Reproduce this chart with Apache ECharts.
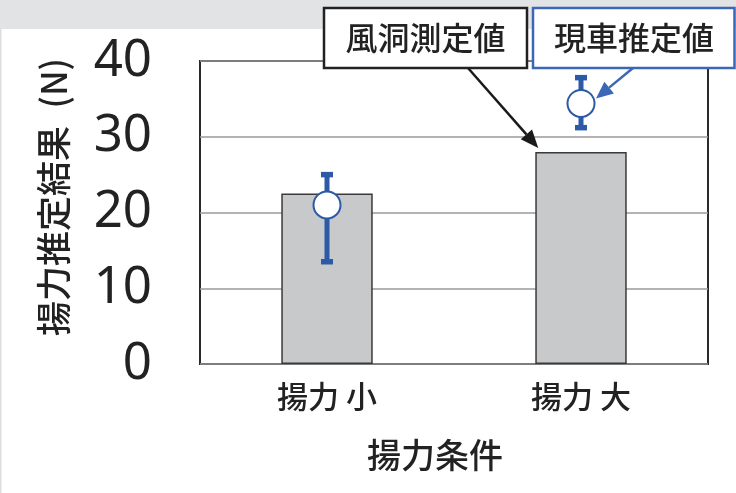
<!DOCTYPE html>
<html><head><meta charset="utf-8">
<script src="https://cdn.jsdelivr.net/npm/echarts@6/dist/echarts.min.js"></script>
<style>html,body{margin:0;padding:0;background:#fff}#c{width:736px;height:493px}</style>
</head><body><div id="c"></div>
<script>
// Lift force: wind-tunnel measurement (bars) vs. on-vehicle estimate (points with range)
const categories = ['揚力 小', '揚力 大'];
const tunnelValues = [22.5, 28.0];
const estimateValues = [21.0, 34.4];
const estimateLow = [13.5, 31.2];
const estimateHigh = [25.0, 37.8];
const yTicks = [0, 10, 20, 30, 40];

const BLUE = '#2c5aa6';
const BOX_BLUE = '#3b67b6';
const FONT = '"Noto Sans CJK JP", "Noto Sans", sans-serif';

const chart = echarts.init(document.getElementById('c'), null, { renderer: 'canvas' });

const errorData = categories.map((c, i) => [i, estimateLow[i], estimateHigh[i]]);
const pointData = categories.map((c, i) => [i, estimateValues[i]]);

chart.setOption({
  animation: false,
  backgroundColor: '#ffffff',
  grid: { left: 200, right: 28, top: 61, bottom: 129, show: true, borderColor: '#2a2a2a', borderWidth: 2, backgroundColor: 'transparent' },
  xAxis: {
    type: 'category',
    data: categories,
    axisLine: { show: false },
    axisTick: { show: false },
    axisLabel: { fontSize: 31, fontWeight: 500, color: '#222', fontFamily: FONT, margin: 17 }
  },
  yAxis: {
    type: 'value',
    min: yTicks[0], max: yTicks[yTicks.length - 1], interval: 10,
    axisLine: { show: false },
    axisTick: { show: false },
    splitLine: { show: true, lineStyle: { color: '#9a9a9a', width: 1.5 } },
    axisLabel: { fontSize: 51, color: '#222', fontFamily: '"Noto Sans", sans-serif', margin: 48 }
  },
  series: [
    {
      name: '風洞測定値',
      type: 'bar',
      data: tunnelValues,
      barWidth: '36%',
      itemStyle: { color: '#c8c9cb', borderColor: '#3a3a3a', borderWidth: 1.5 },
      z: 2
    },
    {
      name: '現車推定値 範囲',
      type: 'custom',
      data: errorData,
      z: 3,
      renderItem(params, api) {
        const x = api.value(0);
        const lo = api.coord([x, api.value(1)]);
        const hi = api.coord([x, api.value(2)]);
        const cw = 12, ch = 5.5;
        return {
          type: 'group',
          children: [
            { type: 'line', shape: { x1: hi[0], y1: hi[1], x2: lo[0], y2: lo[1] }, style: { stroke: BLUE, lineWidth: 5 } },
            { type: 'rect', shape: { x: hi[0] - cw / 2, y: hi[1] - ch / 2, width: cw, height: ch }, style: { fill: BLUE } },
            { type: 'rect', shape: { x: lo[0] - cw / 2, y: lo[1] - ch / 2, width: cw, height: ch }, style: { fill: BLUE } }
          ]
        };
      }
    },
    {
      name: '現車推定値',
      type: 'scatter',
      data: pointData,
      symbol: 'circle',
      symbolSize: 27,
      itemStyle: { color: '#ffffff', borderColor: BLUE, borderWidth: 2, opacity: 1 },
      z: 4
    }
  ]
});

// Callout boxes and arrows, positioned from the plotted marks
const barPix = chart.convertToPixel({ seriesIndex: 0 }, [1, tunnelValues[1]]);
const plotW = 736 - 200 - 28;
const barHalf = plotW / categories.length * 0.36 / 2;
const ptPix = chart.convertToPixel({ seriesIndex: 2 }, [1, estimateValues[1]]);

function arrow(x1, y1, x2, y2, color, lw, headLen, headW) {
  const dx = x2 - x1, dy = y2 - y1;
  const len = Math.sqrt(dx * dx + dy * dy);
  const ux = dx / len, uy = dy / len;
  const bx = x2 - ux * headLen, by = y2 - uy * headLen;
  const px = -uy * headW / 2, py = ux * headW / 2;
  return [
    { type: 'line', z: 50, shape: { x1, y1, x2: bx, y2: by }, style: { stroke: color, lineWidth: lw } },
    { type: 'polygon', z: 50, shape: { points: [[x2, y2], [bx + px, by + py], [bx - px, by - py]] }, style: { fill: color } }
  ];
}

const tip1 = [barPix[0] - barHalf + 3, barPix[1] - 4];
const tip2 = [ptPix[0] + 15, ptPix[1] - 5];

chart.setOption({
  graphic: [
    { type: 'rect', z: 40, shape: { x: 0, y: 0, width: 736, height: 29 }, style: { fill: '#e2e3e5' } },
    { type: 'rect', z: 40, shape: { x: 0, y: 29, width: 1.5, height: 464 }, style: { fill: '#dcdddf' } },
    ...arrow(468, 68, tip1[0], tip1[1], '#1a1a1a', 2.5, 18, 15),
    ...arrow(633, 68, tip2[0], tip2[1], BOX_BLUE, 2.5, 17, 15),
    { type: 'rect', z: 60, shape: { x: 324, y: 8, width: 203, height: 60 }, style: { fill: '#fff', stroke: '#222', lineWidth: 2.5 } },
    { type: 'text', z: 61, x: 425.5, y: 38, style: { text: '風洞測定値', font: '500 32px ' + FONT, fill: '#222', align: 'center', verticalAlign: 'middle' } },
    { type: 'rect', z: 60, shape: { x: 533, y: 8, width: 201.5, height: 60 }, style: { fill: '#fff', stroke: BOX_BLUE, lineWidth: 2.5 } },
    { type: 'text', z: 61, x: 634, y: 38, style: { text: '現車推定値', font: '500 32px ' + FONT, fill: '#222', align: 'center', verticalAlign: 'middle' } },
    { type: 'text', z: 61, x: 54, y: 197, rotation: Math.PI / 2, style: { text: '揚力推定結果\u2002(N)', font: '500 35px ' + FONT, fill: '#222', align: 'center', verticalAlign: 'middle' } },
    { type: 'text', z: 61, x: 435, y: 455, style: { text: '揚力条件', font: '500 34px ' + FONT, fill: '#222', align: 'center', verticalAlign: 'middle' } }
  ]
});
</script>
</body></html>
